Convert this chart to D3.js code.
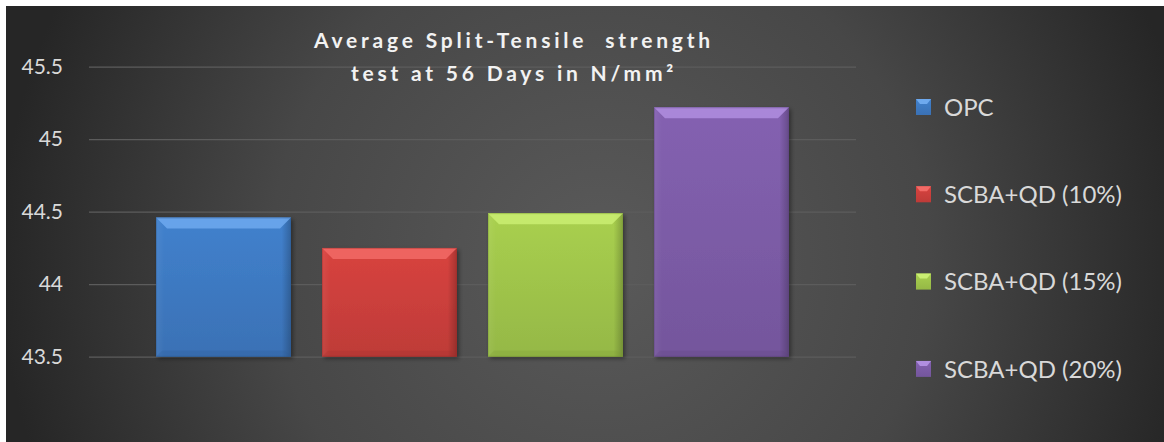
<!DOCTYPE html>
<html><head><meta charset="utf-8">
<script src="https://cdn.jsdelivr.net/npm/d3@7"></script>
<style>html,body{margin:0;padding:0;background:#fff;}svg{display:block;}</style>
</head><body>
<script>
const categories = ["OPC", "SCBA+QD (10%)", "SCBA+QD (15%)", "SCBA+QD (20%)"];
const values = [44.46, 44.25, 44.49, 45.22];
const yTicks = [43.5, 44, 44.5, 45, 45.5];
const titleLines = ["Average Split-Tensile  strength", "test at 56 Days in N/mm\u00B2"];
const mainColors = ["#3f7cc6", "#d0413d", "#a3c94c", "#7f5eab"];
const lightColors = ["#6ea9ee", "#f26a66", "#caee72", "#b08ee0"];
const darkColors = ["#2d5c96", "#9e2e2b", "#7a9a34", "#5e437f"];

const W = 1164, H = 442;
const svg = d3.select("body").append("svg").attr("width", W).attr("height", H);
const defs = svg.append("defs");

const bg = defs.append("radialGradient").attr("id", "bg")
  .attr("gradientUnits", "userSpaceOnUse").attr("cx", 600).attr("cy", 260).attr("r", 600);
bg.append("stop").attr("offset", "0%").attr("stop-color", "#5a5a5a");
bg.append("stop").attr("offset", "55%").attr("stop-color", "#474747");
bg.append("stop").attr("offset", "100%").attr("stop-color", "#262626");

svg.append("rect").attr("x", 6).attr("y", 6).attr("width", W - 6).attr("height", H - 6).attr("fill", "url(#bg)");

const x = d3.scaleBand().domain(categories).range([89, 856]).paddingInner(0.187).paddingOuter(0.404);
const y = d3.scaleLinear().domain([43.5, 45.5]).range([356.7, 66.7]);

// gridlines + tick labels
const axis = svg.append("g").attr("transform", "translate(89,0)")
  .call(d3.axisLeft(y).tickValues(yTicks).tickSizeInner(-767).tickSizeOuter(0).tickPadding(26)
    .tickFormat(d => String(d)));
axis.select(".domain").remove();
axis.selectAll(".tick line").attr("stroke", "#5c5c5c").attr("stroke-width", 1.2);
axis.selectAll(".tick text").attr("fill", "#d9d9d9").attr("font-family", "Lato, 'Open Sans', sans-serif")
  .attr("font-size", 21);

// bar gradients
categories.forEach((c, i) => {
  const g = defs.append("linearGradient").attr("id", "bar" + i).attr("x1", 0).attr("y1", 0).attr("x2", 0).attr("y2", 1);
  g.append("stop").attr("offset", "0%").attr("stop-color", d3.color(mainColors[i]).brighter(0.1));
  g.append("stop").attr("offset", "100%").attr("stop-color", d3.color(mainColors[i]).darker(0.25));
  const h = defs.append("linearGradient").attr("id", "side" + i).attr("x1", 0).attr("y1", 0).attr("x2", 1).attr("y2", 0);
  h.append("stop").attr("offset", "0%").attr("stop-color", "#ffffff").attr("stop-opacity", 0.06);
  h.append("stop").attr("offset", "6%").attr("stop-color", "#ffffff").attr("stop-opacity", 0);
  h.append("stop").attr("offset", "93%").attr("stop-color", "#000000").attr("stop-opacity", 0);
  h.append("stop").attr("offset", "100%").attr("stop-color", "#000000").attr("stop-opacity", 0.22);
});
const sh = defs.append("filter").attr("id", "shadow").attr("x", "-10%").attr("y", "-10%").attr("width", "130%").attr("height", "130%");
sh.append("feDropShadow").attr("dx", 2).attr("dy", 2).attr("stdDeviation", 2).attr("flood-color", "#000").attr("flood-opacity", 0.4);

const bars = svg.append("g").selectAll("g").data(categories).join("g");
bars.each(function (c, i) {
  const g = d3.select(this);
  const x0 = x(c), w = x.bandwidth(), top = y(values[i]), bot = y(43.5), b = 11;
  g.append("rect").attr("x", x0).attr("y", top).attr("width", w).attr("height", bot - top)
    .attr("fill", "url(#bar" + i + ")").attr("filter", "url(#shadow)");
  g.append("rect").attr("x", x0).attr("y", top).attr("width", w).attr("height", bot - top)
    .attr("fill", "url(#side" + i + ")");
  // top bevel
  g.append("polygon").attr("points", [[x0, top], [x0 + w, top], [x0 + w - b, top + b], [x0 + b, top + b]].join(" "))
    .attr("fill", lightColors[i]).attr("opacity", 0.85);
  // bottom
  g.append("polygon").attr("points", [[x0, bot], [x0 + 6, bot - 6], [x0 + w - 6, bot - 6], [x0 + w, bot]].join(" "))
    .attr("fill", darkColors[i]).attr("opacity", 0.25);
  g.append("rect").attr("x", x0 + 0.5).attr("y", top + 0.5).attr("width", w - 1).attr("height", bot - top - 1)
    .attr("fill", "none").attr("stroke", darkColors[i]).attr("stroke-opacity", 0.4);
});

// title
const title = svg.append("text").attr("text-anchor", "middle").attr("fill", "#f2f2f2")
  .attr("font-family", "Lato, 'Open Sans', sans-serif").attr("font-weight", "bold").attr("font-size", 21)
  .style("letter-spacing", "3.8px").style("white-space", "pre");
titleLines.forEach((t, i) => {
  title.append("tspan").attr("x", 514).attr("y", 48 + i * 33).text(t);
});

// legend
const legend = svg.append("g").selectAll("g").data(categories).join("g")
  .attr("transform", (d, i) => `translate(916,${107 + i * 87.3})`);
legend.append("rect").attr("x", 0).attr("y", -8).attr("width", 15).attr("height", 16)
  .attr("fill", (d, i) => "url(#bar" + i + ")");
legend.append("polygon").attr("points", "0,-8 15,-8 11,-3 4,-3").attr("fill", (d, i) => lightColors[i]);
legend.append("text").attr("x", 28).attr("y", 0).attr("dy", "0.36em").attr("fill", "#d9d9d9")
  .attr("font-family", "Lato, 'Open Sans', sans-serif").attr("font-size", 24).text(d => d);
</script>
</body></html>
